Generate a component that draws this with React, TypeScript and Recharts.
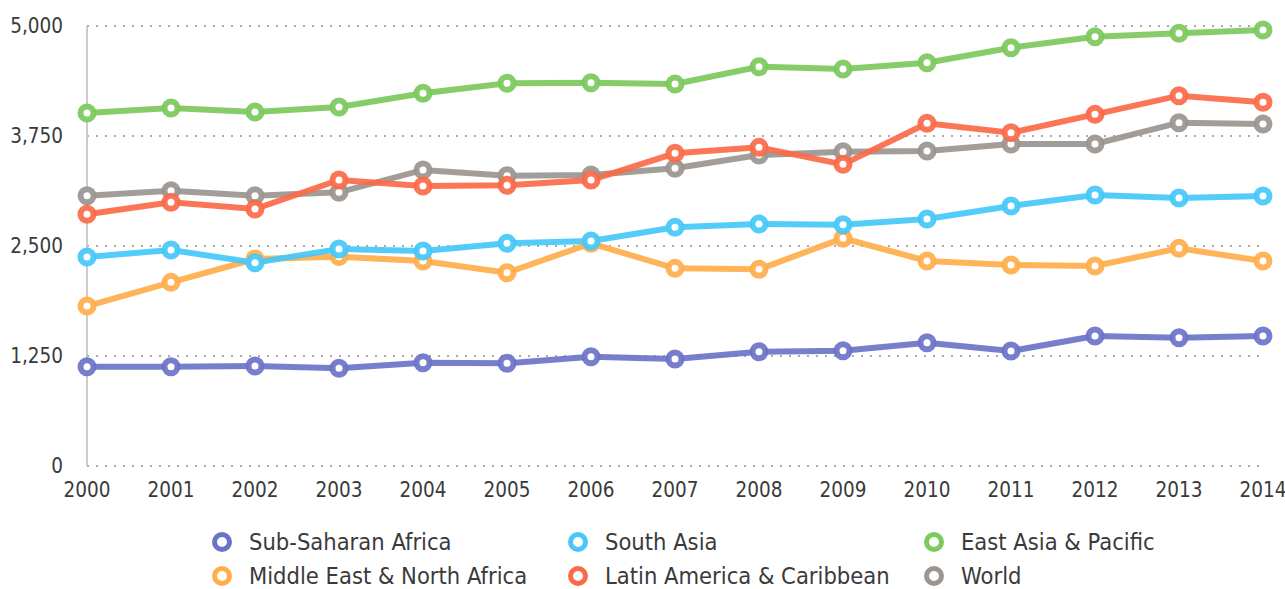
import { LineChart, Line, XAxis, YAxis, CartesianGrid } from "recharts";

const years = ["2000", "2001", "2002", "2003", "2004", "2005", "2006", "2007", "2008", "2009", "2010", "2011", "2012", "2013", "2014"];

const subSaharan = [1128, 1128, 1136, 1110, 1174, 1167, 1242, 1216, 1299, 1310, 1401, 1307, 1477, 1458, 1477];
const mena = [1818, 2087, 2352, 2379, 2330, 2197, 2530, 2246, 2235, 2588, 2330, 2284, 2273, 2474, 2330];
const southAsia = [2375, 2455, 2310, 2466, 2443, 2530, 2557, 2712, 2750, 2742, 2807, 2955, 3080, 3045, 3068];
const world = [3072, 3129, 3072, 3110, 3364, 3299, 3307, 3383, 3534, 3572, 3580, 3659, 3659, 3901, 3886];
const latam = [2860, 2997, 2920, 3250, 3182, 3189, 3250, 3553, 3621, 3428, 3894, 3788, 3996, 4208, 4133];
const eastAsia = [4011, 4068, 4023, 4080, 4235, 4349, 4356, 4341, 4537, 4511, 4583, 4753, 4878, 4917, 4955];

const yTicks = [0, 1250, 2500, 3750, 5000];

// drawing order (back to front)
const series = [
  { key: "ssa", name: "Sub-Saharan Africa", color: "#6b73c8", values: subSaharan },
  { key: "mena", name: "Middle East & North Africa", color: "#ffae4c", values: mena },
  { key: "sa", name: "South Asia", color: "#45c8f8", values: southAsia },
  { key: "world", name: "World", color: "#9a958f", values: world },
  { key: "lac", name: "Latin America & Caribbean", color: "#fb6a48", values: latam },
  { key: "eap", name: "East Asia & Pacific", color: "#7cc95c", values: eastAsia },
];

// legend layout: rows of columns
const legendRows = [
  ["ssa", "sa", "eap"],
  ["mena", "lac", "world"],
];

const data = years.map((year, i) => {
  const row: any = { year };
  series.forEach((s) => (row[s.key] = s.values[i]));
  return row;
});

const FONT = "'DejaVu Sans Condensed', 'Liberation Sans Narrow', Arial, sans-serif";

export default function App() {
  return (
    <div style={{ position: "absolute", left: 0, top: 0, width: 1285, height: 589, background: "#fff", fontFamily: FONT }}>
      <LineChart width={1285} height={589} data={data} margin={{ top: 26, right: 22, bottom: 93, left: 0 }}>
        <CartesianGrid horizontal vertical={false} stroke="#aaa" strokeWidth={2} strokeDasharray="2 7" />
        <XAxis
          dataKey="year"
          axisLine={false}
          tickLine={false}
          tickSize={0}
          tickMargin={16}
          height={30}
          interval={0}
          tick={{ fill: "#3a3a3a", fontSize: 20.5, fontFamily: FONT }}
        />
        <YAxis
          domain={[0, 5000]}
          ticks={yTicks}
          width={87}
          axisLine={{ stroke: "#bbb", strokeWidth: 1.5 }}
          tickLine={false}
          tickSize={0}
          tickMargin={24}
          tickFormatter={(v: number) => v.toLocaleString("en-US")}
          tick={{ fill: "#3a3a3a", fontSize: 20.5, fontFamily: FONT }}
        />
        {series.map((s) => (
          <Line
            key={s.key}
            dataKey={s.key}
            name={s.name}
            stroke={s.color}
            strokeWidth={6}
            strokeOpacity={0.92}
            dot={{ r: 6.5, fill: "#fff", stroke: s.color, strokeWidth: 6, fillOpacity: 1 }}
            activeDot={false}
            isAnimationActive={false}
          />
        ))}
      </LineChart>
      {legendRows.map((row, ri) =>
        row.map((key, ci) => {
          const s = series.find((x) => x.key === key)!;
          return (
            <div
              key={key}
              style={{
                position: "absolute",
                left: 211 + ci * 356,
                top: 542 + ri * 34 - 15,
                height: 30,
                display: "flex",
                alignItems: "center",
                whiteSpace: "nowrap",
              }}
            >
              <svg width={22} height={22} style={{ marginRight: 16 }}>
                <circle cx={11} cy={11} r={7.5} fill="#fff" stroke={s.color} strokeWidth={5} />
              </svg>
              <span style={{ fontSize: 23.5, color: "#3a3a3a" }}>{s.name}</span>
            </div>
          );
        })
      )}
    </div>
  );
}
